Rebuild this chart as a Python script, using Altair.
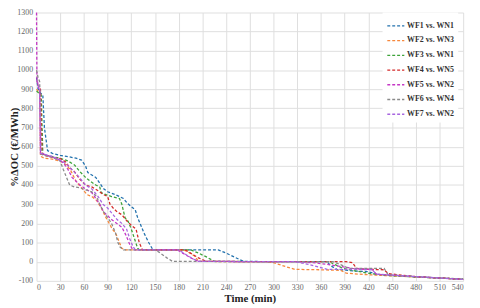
import altair as alt
import pandas as pd

series_names = ["WF1 vs. WN1", "WF2 vs. WN3", "WF3 vs. WN1", "WF4 vs. WN5",
                "WF5 vs. WN2", "WF6 vs. WN4", "WF7 vs. WN2"]
colors = ["#2372ae", "#f7883c", "#3ea33a", "#d42a2a", "#c537c5", "#8a8a8a", "#a866e0"]

wf1_t = [0, 2, 5, 8, 10, 14, 20, 30, 40, 50, 57, 62, 65, 75, 85, 90, 100, 110, 115, 125, 128, 131, 136, 142, 147, 150, 180, 210, 230, 240, 250, 262, 300, 340, 368, 372, 380, 400, 420, 430, 440, 480, 510, 540]
wf1_v = [960, 900, 880, 870, 700, 580, 565, 555, 548, 540, 530, 500, 465, 440, 380, 365, 350, 330, 305, 270, 230, 200, 150, 100, 65, 62, 62, 62, 62, 45, 25, 2, 0, 0, 0, -20, -40, -48, -52, -65, -70, -78, -85, -92]

wf2_t = [0, 2, 4, 5, 10, 20, 30, 38, 44, 50, 58, 64, 70, 76, 82, 88, 92, 96, 100, 104, 108, 112, 150, 185, 190, 200, 205, 260, 290, 300, 315, 327, 360, 385, 392, 420, 440, 480, 510, 540]
wf2_v = [900, 890, 880, 550, 540, 535, 525, 505, 470, 420, 380, 350, 340, 320, 280, 230, 200, 170, 150, 110, 70, 62, 62, 62, 55, 30, 2, 0, 0, -5, -25, -40, -42, -45, -60, -68, -72, -80, -85, -92]

wf3_t = [0, 3, 6, 8, 12, 20, 30, 40, 48, 55, 62, 68, 75, 80, 82, 88, 95, 105, 108, 112, 116, 120, 124, 128, 130, 160, 195, 205, 215, 225, 300, 370, 378, 388, 400, 420, 440, 480, 510, 540]
wf3_v = [890, 880, 870, 560, 555, 548, 540, 525, 505, 470, 440, 420, 400, 390, 360, 350, 340, 330, 300, 230, 210, 170, 120, 70, 62, 62, 62, 45, 25, 2, 0, 0, -15, -35, -45, -60, -70, -80, -85, -90]

wf4_t = [0, 2, 5, 7, 10, 20, 30, 37, 42, 48, 55, 62, 70, 78, 85, 90, 93, 97, 102, 108, 115, 120, 126, 130, 134, 160, 188, 195, 205, 215, 300, 380, 392, 400, 405, 420, 440, 445, 480, 510, 540]
wf4_v = [950, 920, 900, 560, 555, 545, 538, 520, 490, 470, 430, 400, 390, 370, 350, 340, 300, 280, 260, 245, 210, 190, 170, 100, 62, 62, 62, 45, 20, 2, 0, 0, 0, -5, -35, -40, -42, -62, -78, -85, -92]

wf5_t = [0, 0.5, 2, 4, 5, 10, 20, 30, 35, 40, 45, 50, 55, 62, 70, 75, 80, 85, 90, 95, 100, 108, 113, 118, 122, 150, 178, 185, 195, 205, 300, 330, 350, 370, 400, 425, 430, 480, 510, 540]
wf5_v = [1300, 960, 920, 890, 570, 560, 545, 530, 510, 480, 440, 420, 400, 380, 360, 330, 300, 260, 240, 220, 205, 180, 140, 90, 62, 62, 62, 45, 20, 2, 0, 0, -5, -15, -35, -40, -65, -78, -85, -92]

wf6_t = [0, 2, 4, 6, 10, 20, 30, 34, 38, 42, 48, 55, 62, 70, 76, 80, 85, 90, 95, 100, 103, 106, 110, 150, 155, 165, 172, 300, 375, 385, 395, 440, 445, 480, 510, 540]
wf6_v = [1000, 960, 940, 560, 555, 545, 525, 480, 440, 400, 390, 385, 375, 365, 340, 300, 260, 230, 200, 150, 100, 75, 62, 62, 50, 20, 2, 0, 0, -15, -35, -35, -68, -78, -85, -92]

wf7_t = [0, 2, 4, 5, 10, 20, 30, 38, 45, 52, 58, 62, 70, 78, 84, 90, 96, 102, 108, 114, 118, 122, 125, 150, 180, 188, 198, 205, 300, 328, 345, 368, 400, 425, 430, 480, 510, 540]
wf7_v = [950, 920, 900, 565, 560, 550, 530, 510, 480, 450, 420, 400, 380, 340, 300, 280, 250, 220, 200, 170, 120, 80, 62, 62, 62, 40, 15, 2, 0, 0, -15, -40, -40, -42, -65, -78, -85, -92]

all_t = [wf1_t, wf2_t, wf3_t, wf4_t, wf5_t, wf6_t, wf7_t]
all_v = [wf1_v, wf2_v, wf3_v, wf4_v, wf5_v, wf6_v, wf7_v]

x_ticks = list(range(0, 541, 30))
y_ticks = list(range(-100, 1301, 100))

rows = []
for name, ts, vs in zip(series_names, all_t, all_v):
    for i, (t, v) in enumerate(zip(ts, vs)):
        rows.append({"series": name, "t": t, "v": v, "i": i})
df = pd.DataFrame(rows)

font = "Liberation Serif"
H = 273

chart = alt.Chart(df).mark_line(strokeDash=[3, 2], strokeWidth=1.3).encode(
    x=alt.X("t:Q", scale=alt.Scale(domain=[0, 540], nice=False),
            axis=alt.Axis(values=x_ticks, title="Time (min)", labelExpr="'' + datum.value",
                          titleY=18, titleBaseline="middle")),
    y=alt.Y("v:Q", scale=alt.Scale(domain=[-100, 1300], nice=False),
            axis=alt.Axis(values=y_ticks, title="%ΔOC (€/MWh)", labelExpr="'' + datum.value",
                          titleX=-22, titleY=H / 2, titleBaseline="middle", titleAngle=-90)),
    color=alt.Color("series:N", scale=alt.Scale(domain=series_names, range=colors),
                    legend=alt.Legend(title=None, orient="none", legendX=352, legendY=0,
                                      symbolType="stroke", symbolDash=[3, 2], symbolStrokeWidth=1.3,
                                      symbolSize=300, labelFont=font, labelFontSize=8,
                                      labelFontWeight="bold", labelColor="#333333",
                                      fillColor="white", padding=4, rowPadding=1,
                                      labelOffset=2)),
    order="i:Q",
).properties(
    width=434, height=H,
    autosize=alt.AutoSizeParams(type="none"),
    padding={"left": 29, "top": 2, "right": 9, "bottom": 25},
).configure_view(stroke=None).configure_axis(
    labelFont=font, labelFontSize=8, labelColor="#666666",
    titleFont=font, titleFontSize=11, titleFontWeight="bold", titleColor="#222222",
    grid=True, gridColor="#dedede", gridWidth=1, domain=False, ticks=False,
).configure_axisX(labelPadding=3).configure_axisY(labelPadding=4)

chart.save("out.html", embed_options={"renderer": "svg", "actions": False})
